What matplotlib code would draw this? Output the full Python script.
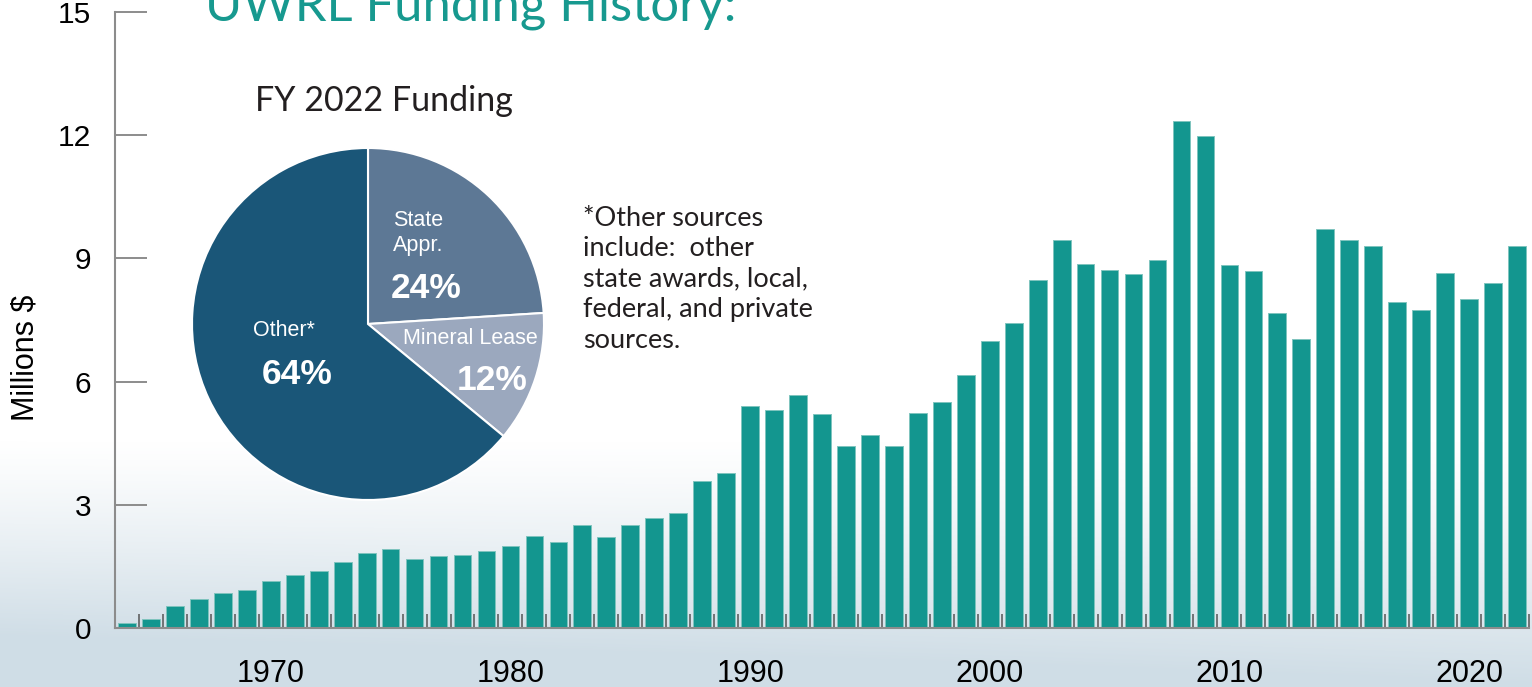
import numpy as np
import matplotlib.pyplot as plt
from matplotlib.colors import LinearSegmentedColormap

years = list(range(1964, 2023))
funding = [0.13, 0.22, 0.54, 0.71, 0.85, 0.93, 1.14, 1.28, 1.40, 1.61,
           1.83, 1.93, 1.69, 1.75, 1.78, 1.87, 1.99, 2.23, 2.10, 2.52,
           2.22, 2.52, 2.69, 2.79, 3.58, 3.78, 5.41, 5.32, 5.67, 5.20,
           4.44, 4.71, 4.42, 5.23, 5.51, 6.15, 7.00, 7.43, 8.47, 9.45,
           8.86, 8.72, 8.63, 8.97, 12.34, 11.98, 8.83, 8.69, 7.67, 7.04,
           9.72, 9.45, 9.31, 7.93, 7.74, 8.64, 8.01, 8.41, 9.31]

pie_names = ['State Appr.', 'Mineral Lease', 'Other*']
pie_shares = [24, 12, 64]
pie_colors = ['#5d7895', '#9ba8be', '#1a5678']

yticks = [0, 3, 6, 9, 12, 15]
xlabels = [1970, 1980, 1990, 2000, 2010, 2020]

W, H = 1532, 687
fig = plt.figure(figsize=(W/100, H/100), dpi=100)

# background: white fading to pale blue-grey at the bottom
bg = fig.add_axes([0, 0, 1, 1], zorder=-10)
yy = np.linspace(0, 1, H)[:, None]
xx = np.linspace(0, 1, W)[None, :]
t = np.clip((yy - 0.64) / 0.36, 0, 1) ** 1.2
t = np.clip(t * (1.0 + 0.3*(1 - xx)), 0, 1)
cmap = LinearSegmentedColormap.from_list('bg', ['#ffffff', '#cfdde6'])
bg.imshow(t, cmap=cmap, aspect='auto', vmin=0, vmax=1, extent=[0, 1, 0, 1], origin='upper')
bg.axis('off')

ax = fig.add_axes([115/W, (H-628)/H, (1529-115)/W, 616/H])
ax.patch.set_alpha(0)
ax.bar(years, funding, width=0.74, color='#13968f', edgecolor='#7fc4be', linewidth=0.7)
ax.set_xlim(1963.5, 2022.5)
ax.set_ylim(0, 15)

for s in ['top', 'right']:
    ax.spines[s].set_visible(False)
ax.spines['left'].set_color('#8c8c8c')
ax.spines['left'].set_linewidth(1.5)
ax.spines['bottom'].set_color('#8c8c8c')
ax.spines['bottom'].set_linewidth(1.5)

ax.set_yticks(yticks)
ax.set_yticklabels([str(v) for v in yticks], fontsize=21.5, family='Liberation Sans')
ax.tick_params(axis='y', direction='in', length=23, width=1.4, color='#8c8c8c', pad=17)

ax.set_xticks(xlabels)
ax.set_xticklabels([str(v) for v in xlabels], fontsize=22, family='Liberation Sans')
ax.tick_params(axis='x', which='major', length=0, pad=22)
ax.set_xticks([y + 0.5 for y in years], minor=True)
ax.tick_params(axis='x', which='minor', direction='in', length=10, width=1.1, color='#555555')

fig.text(26/W, 1 - 358/H, 'Millions $', rotation=90, ha='center', va='center',
         fontsize=22, family='Liberation Sans')

# title sits partly above the top edge, as in the original slide
fig.text(205/W, 1 - 21/H, 'UWRL Funding History:', ha='left', va='baseline',
         fontsize=36.5, color='#17998f', family='Lato')

fig.text(255/W, 1 - 101/H, 'FY 2022 Funding', ha='left', va='center',
         fontsize=24.5, color='#231f20', family='Lato')

fig.text(583/W, 1 - 206/H,
         '*Other sources\ninclude:  other\nstate awards, local,\nfederal, and private\nsources.',
         ha='left', va='top', fontsize=19.5, color='#231f20', family='Lato', linespacing=1.27)

# pie inset
cx, cy, r = 368, 324, 176
pax = fig.add_axes([(cx-r)/W, (H-cy-r)/H, 2*r/W, 2*r/H])
pax.pie(pie_shares, colors=pie_colors, startangle=90, counterclock=False, radius=1,
        wedgeprops=dict(edgecolor='white', linewidth=1.5))
pax.set_xlim(-1, 1)
pax.set_ylim(-1, 1)
pax.set_aspect('equal')
pax.axis('off')

def px(x, y):
    return (x - cx) / r, (cy - y) / r

lab_font = dict(color='white', family='Liberation Sans')
pax.text(*px(393, 233), 'State\nAppr.', ha='left', va='center', fontsize=15.5, linespacing=1.2, **lab_font)
pax.text(*px(391, 289), '24%', ha='left', va='center', fontsize=25.5, fontweight='bold', **lab_font)
pax.text(*px(403, 339), 'Mineral Lease', ha='left', va='center', fontsize=15.5, **lab_font)
pax.text(*px(457, 381), '12%', ha='left', va='center', fontsize=25.5, fontweight='bold', **lab_font)
pax.text(*px(253, 331), 'Other*', ha='left', va='center', fontsize=15.5, **lab_font)
pax.text(*px(262, 375), '64%', ha='left', va='center', fontsize=25.5, fontweight='bold', **lab_font)

fig.savefig('out.png', dpi=100)
